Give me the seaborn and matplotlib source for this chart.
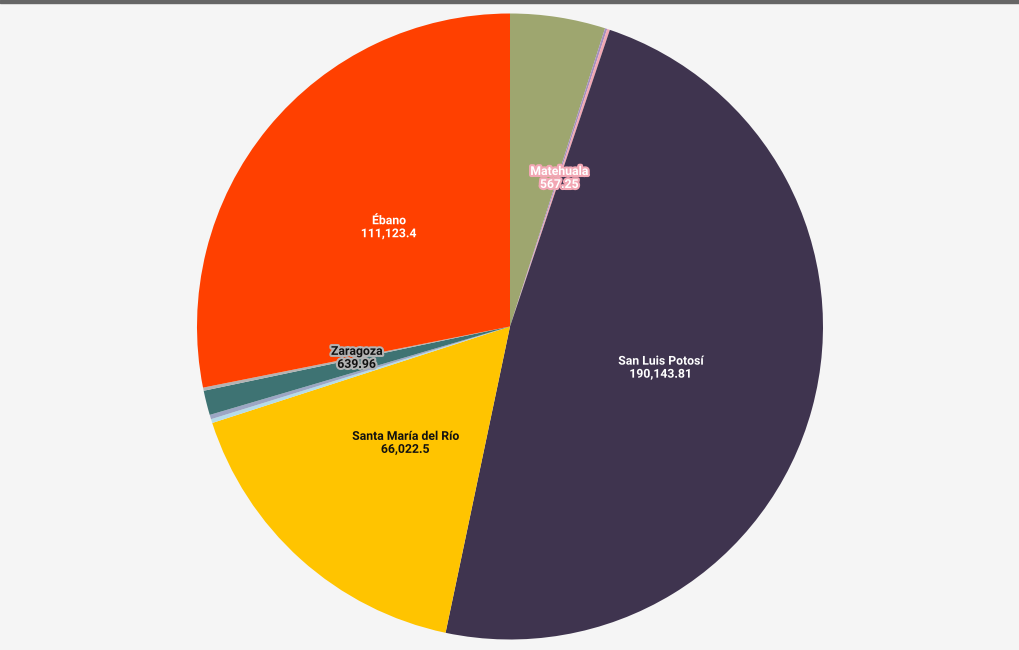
import matplotlib
matplotlib.use("Agg")
import matplotlib.pyplot as plt
import matplotlib.patheffects as pe
from matplotlib.patches import Rectangle
import numpy as np
import seaborn as sns

# ---- data (clockwise from 12 o'clock) ----
municipios = ["Otro 1", "Otro 2", "Matehuala", "San Luis Potosí",
              "Santa María del Río", "Otro 3", "Otro 4", "Otro 5",
              "Zaragoza", "Ébano"]
valores = [19400, 450, 567.25, 190143.81, 66022.5, 800, 900, 5000,
           639.96, 111123.4]
mostrar_etiqueta = [False, False, True, True, True, False, False, False,
                    True, True]

# ---- style ----
colores = ["#9EA66F", "#A58FBE", "#F2A7B4", "#3F344F", "#FFC400",
           "#B5DCE8", "#9CA6C4", "#3E7373", "#B3B3B3", "#FF4000"]
color_texto = ["#FFFFFF", "#FFFFFF", "#FFFFFF", "#FFFFFF", "#111111",
               "#111111", "#111111", "#FFFFFF", "#111111", "#FFFFFF"]

sns.set_theme(style="white")
plt.rcParams['font.family'] = ['Roboto', 'DejaVu Sans']

W, H = 1020, 650
fig = plt.figure(figsize=(W / 100, H / 100), dpi=100, facecolor="#F5F5F5")
cx, cy, r = 510, 326.5, 313
ax = fig.add_axes([(cx - r) / W, (H - cy - r) / H, 2 * r / W, 2 * r / H])
ax.set_facecolor("none")

wedges, _ = ax.pie(valores, colors=colores, startangle=90, counterclock=False,
                   radius=1, wedgeprops=dict(linewidth=0))
ax.set_xlim(-1, 1)
ax.set_ylim(-1, 1)
ax.axis("off")


def fmt(v):
    s = f"{v:,.2f}"
    return s.rstrip("0").rstrip(".")


for w, name, v, show, col, tcol in zip(wedges, municipios, valores,
                                       mostrar_etiqueta, colores, color_texto):
    if not show:
        continue
    th = np.deg2rad((w.theta1 + w.theta2) / 2)
    x, y = 0.5 * np.cos(th), 0.5 * np.sin(th)
    ax.text(x, y, f"{name}\n{fmt(v)}", ha="center", va="center",
            fontsize=8.8, fontweight="bold", color=tcol, linespacing=1.0,
            path_effects=[pe.withStroke(linewidth=3, foreground=col)])

fig.patches.append(Rectangle((0, 1 - 3 / H), 1, 3 / H, transform=fig.transFigure,
                             color="#666666", zorder=10))

fig.savefig("out.png", dpi=100, facecolor=fig.get_facecolor())
